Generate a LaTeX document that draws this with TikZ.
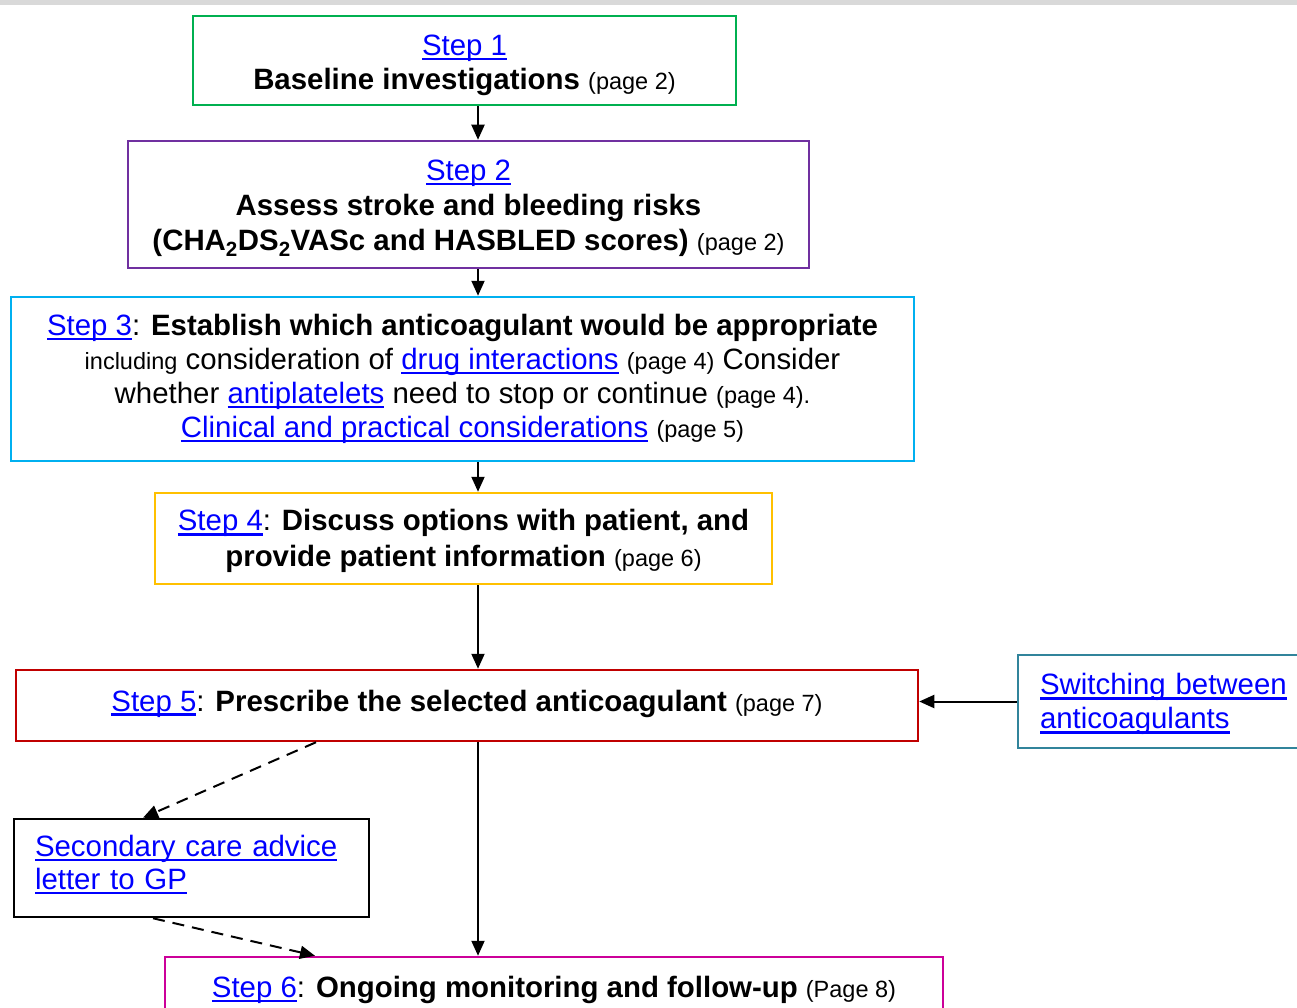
\documentclass[tikz,border=0pt]{standalone}
\usepackage{fontspec}
\setmainfont{Liberation Sans}
\usetikzlibrary{arrows.meta}
\definecolor{cgreen}{HTML}{00B050}
\definecolor{cpurple}{HTML}{7030A0}
\definecolor{ccyan}{HTML}{00B0F0}
\definecolor{cgold}{HTML}{FFC000}
\definecolor{cred}{HTML}{C00000}
\definecolor{cteal}{HTML}{31849B}
\definecolor{cmagenta}{HTML}{CC0099}
\definecolor{linkblue}{HTML}{0000FF}
\definecolor{bargray}{HTML}{D9D9D9}
\newcommand\lnk[1]{\textcolor{linkblue}{\setbox0\hbox{#1}\rlap{\rule[-4.6pt]{\wd0}{2.3pt}}\box0}}
\newcommand\sm[1]{{\fontsize{23.5}{34}\selectfont #1}}
\newcommand\uphgt[1]{\rule{0pt}{#1}}
\newcommand\dnhgt[1]{\rule[-#1]{0pt}{#1}}
\begin{document}
\begin{tikzpicture}[x=1pt,y=-1pt,
  box/.style={draw, line width=2.5pt, inner sep=0pt, align=center,
    font=\fontsize{29.4}{34}\selectfont},
  lbox/.style={draw, line width=2.5pt, inner ysep=0pt, align=left,
    font=\fontsize{29.4}{34}\selectfont},
  arr/.style={-{Triangle[length=15pt,width=13pt]}, line width=2pt},
  darr/.style={arr, dash pattern=on 12pt off 8pt}]
\useasboundingbox (0,0) rectangle (1297,1008);
\clip (0,0) rectangle (1297,1008);
\fill[bargray] (0,0) rectangle (1297,5);

\node[box, draw=cgreen, minimum width=543pt, minimum height=89pt] (b1) at (464.5,60.5)
  {\uphgt{30pt}\lnk{Step 1}\\\textbf{Baseline investigations} \sm{(page 2)}};
\node[box, draw=cpurple, minimum width=681pt, minimum height=127pt,
  font=\fontsize{29.4}{35}\selectfont] (b2) at (468.5,204.5)
  {\uphgt{28pt}\lnk{Step 2}\\\textbf{Assess stroke and bleeding risks}\\\textbf{(CHA\textsubscript{2}DS\textsubscript{2}VASc and HASBLED scores)} \sm{(page 2)}};
\node[box, draw=ccyan, minimum width=903pt, minimum height=164pt] (b3) at (462.5,379)
  {\lnk{Step 3}: \textbf{Establish which anticoagulant would be appropriate}\\
   \sm{including} consideration of \lnk{drug interactions} \sm{(page 4)} Consider\\
   whether \lnk{antiplatelets} need to stop or continue \sm{(page 4).}\\
   \lnk{Clinical and practical considerations} \sm{(page 5)}};
\node[box, draw=cgold, minimum width=617pt, minimum height=91pt,
  font=\fontsize{29.4}{36}\selectfont] (b4) at (463.5,538.5)
  {\uphgt{27pt}\lnk{Step 4}: \textbf{Discuss options with patient, and}\\\textbf{provide patient information} \sm{(page 6)}};
\node[box, draw=cred, minimum width=902pt, minimum height=71pt] (b5) at (467,705.5)
  {\lnk{Step 5}: \textbf{Prescribe the selected anticoagulant} \sm{(page 7)}\dnhgt{10pt}};
\node[lbox, draw=cteal, text width=260pt, inner xsep=22pt, minimum height=93pt] (sw) at (1170,701.5)
  {\uphgt{27pt}\lnk{Switching between}\\\lnk{anticoagulants}};
\node[lbox, draw=black, text width=313pt, inner xsep=21pt, minimum height=98pt,
  font=\fontsize{29.4}{33}\selectfont] (sec) at (191.5,868)
  {\lnk{Secondary care advice}\\\lnk{letter to GP}\dnhgt{11pt}};
\node[box, draw=cmagenta, minimum width=778pt, minimum height=62pt] (b6) at (554,988)
  {\uphgt{25pt}\lnk{Step 6}: \textbf{Ongoing monitoring and follow-up} \sm{(Page 8)}};

\coordinate (ax) at (478,0);
\coordinate (d1) at (316,0);
\coordinate (d2) at (143,0);
\coordinate (d3) at (153,0);
\coordinate (d4) at (315,0);
\draw[arr] (b1.south -| ax) -- (b2.north -| ax);
\draw[arr] (b2.south -| ax) -- (b3.north -| ax);
\draw[arr] (b3.south -| ax) -- (b4.north -| ax);
\draw[arr] (b4.south -| ax) -- (b5.north -| ax);
\draw[arr] (b5.south -| ax) -- (b6.north -| ax);
\draw[arr] (sw.west) -- (sw.west -| b5.east);
\draw[darr] (b5.south -| d1) -- (sec.north -| d2);
\draw[darr] (sec.south -| d3) -- (b6.north -| d4);
\end{tikzpicture}
\end{document}
